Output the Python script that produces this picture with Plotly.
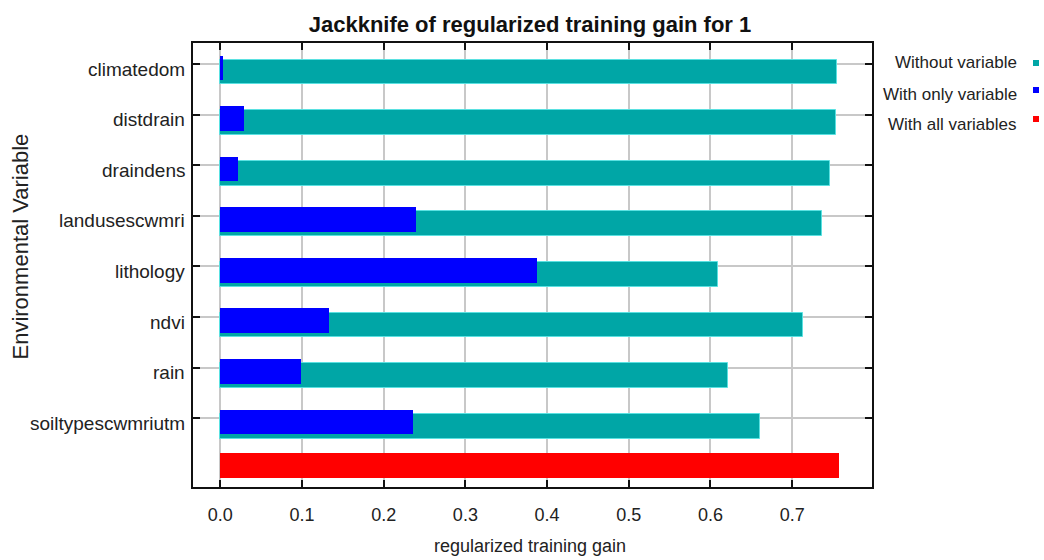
import plotly.graph_objects as go

# ---- data ----
variables = ['climatedom', 'distdrain', 'draindens', 'landusescwmri',
             'lithology', 'ndvi', 'rain', 'soiltypescwmriutm']
without_variable = [0.755, 0.754, 0.746, 0.737, 0.609, 0.713, 0.622, 0.661]
with_only_variable = [0.003, 0.029, 0.022, 0.240, 0.388, 0.133, 0.099, 0.236]
with_all_variables = [0.757]
x_ticks = [0.0, 0.1, 0.2, 0.3, 0.4, 0.5, 0.6, 0.7]
x_tick_labels = ['0.0', '0.1', '0.2', '0.3', '0.4', '0.5', '0.6', '0.7']
series_names = ['Without variable', 'With only variable', 'With all variables']
series_colors = ['rgb(0,166,166)', 'rgb(0,0,255)', 'rgb(255,0,0)']

W, H = 1044, 560
L, R, T, B = 193, 872, 43, 487  # plot area in pixels

FONT = "Liberation Sans, Arial, sans-serif"

pos = list(range(len(variables)))
all_pos = [len(variables)]
bw = 0.49

fig = go.Figure()
fig.add_trace(go.Bar(
    x=without_variable, y=pos, orientation='h', width=bw, offset=-0.09,
    marker=dict(color=series_colors[0], line=dict(color='rgb(90,225,225)', width=1)),
    name=series_names[0], showlegend=False))
fig.add_trace(go.Bar(
    x=with_only_variable, y=pos, orientation='h', width=bw, offset=-0.17,
    marker=dict(color=series_colors[1], line=dict(width=0)),
    name=series_names[1], showlegend=False))
fig.add_trace(go.Bar(
    x=with_all_variables, y=all_pos, orientation='h', width=bw, offset=-0.31,
    marker=dict(color=series_colors[2], line=dict(width=0)),
    name=series_names[2], showlegend=False))

def px_x(px):
    return (px - L) / (R - L)

def px_y(py):
    return (B - py) / (B - T)

annotations = []
shapes = []
# custom legend (text left of square, as in reference)
legend_text_y = [63, 94, 124]
legend_sq_y = [63, 90, 119]
for name, col, ty, sy in zip(series_names, series_colors, legend_text_y, legend_sq_y):
    annotations.append(dict(text=name, xref='paper', yref='paper',
                            x=px_x(1019), y=px_y(ty), xanchor='right', yanchor='middle',
                            showarrow=False, font=dict(family=FONT, size=17, color='#222')))
    shapes.append(dict(type='rect', xref='paper', yref='paper',
                       x0=px_x(1033), x1=px_x(1039), y0=px_y(sy + 3), y1=px_y(sy - 3),
                       fillcolor=col, line=dict(width=0), layer='above'))
# y category labels (sit a little below their tick marks, as in reference)
for i, v in zip(pos, variables):
    annotations.append(dict(text=v, xref='paper', yref='y', x=px_x(187), y=i,
                            xanchor='right', yanchor='middle', yshift=-5,
                            showarrow=False, font=dict(family=FONT, size=19, color='#222')))
# y-axis title
annotations.append(dict(text='Environmental Variable', xref='paper', yref='paper',
                        x=px_x(19.5), y=px_y(247), textangle=-90,
                        xanchor='center', yanchor='middle', showarrow=False,
                        font=dict(family=FONT, size=22, color='#222')))
# x-axis title
annotations.append(dict(text='regularized training gain', xref='paper', yref='paper',
                        x=px_x(530), y=px_y(546), xanchor='center', yanchor='middle',
                        showarrow=False, font=dict(family=FONT, size=18, color='#222')))

fig.update_layout(
    width=W, height=H,
    margin=dict(l=L, r=W - R, t=T, b=H - B, pad=0, autoexpand=False),
    paper_bgcolor='white', plot_bgcolor='white',
    barmode='overlay', bargap=0,
    showlegend=False,
    title=dict(text='Jackknife of regularized training gain for 1',
               x=px_x(530), xref='paper', xanchor='center',
               y=1 - 24 / H, yref='container', yanchor='middle',
               font=dict(family=FONT, size=22, color='#111', weight='bold')),
    annotations=annotations,
    shapes=shapes,
)
fig.update_xaxes(
    range=[-0.0334, 0.7977], tickvals=x_ticks, ticktext=x_tick_labels,
    showgrid=True, gridcolor='rgb(200,200,200)', gridwidth=1.5,
    zeroline=False, showline=True, linecolor='#111', linewidth=2, mirror='ticks',
    ticks='inside', ticklen=7, tickwidth=2, tickcolor='#111',
    ticklabelstandoff=10, automargin=False,
    tickfont=dict(family=FONT, size=18, color='#222'))
fig.update_yaxes(
    range=[8.358, -0.417], tickvals=pos, ticktext=['' for _ in variables],
    showgrid=True, gridcolor='rgb(200,200,200)', gridwidth=1.5,
    zeroline=False, showline=True, linecolor='#111', linewidth=2, mirror='ticks',
    ticks='inside', ticklen=7, tickwidth=2, tickcolor='#111',
    automargin=False)

fig.write_html("out.html", config={'displayModeBar': False},
               post_script="document.body.style.margin='0px';document.body.style.overflow='hidden';")
